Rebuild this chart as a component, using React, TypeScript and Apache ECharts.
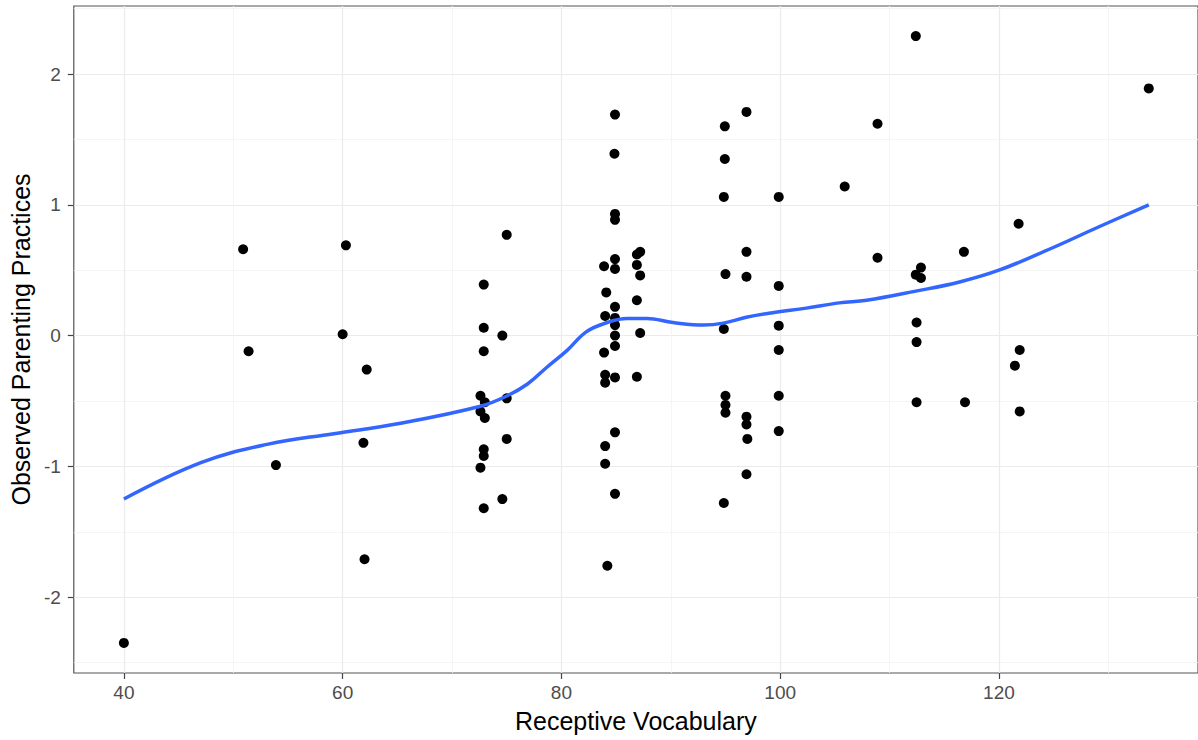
import React, { useEffect, useRef } from "react";
import * as echarts from "echarts";

// Scatter data: Receptive Vocabulary (x) vs Observed Parenting Practices (y)
const vocab = [
  40.0, 50.9, 51.4, 53.9, 60.0, 60.3, 62.2, 61.9, 62.0,
  75.0, 72.9, 72.9, 74.6, 72.9, 72.6, 75.0, 73.0, 72.6, 73.0, 75.0, 72.9, 72.9, 72.6, 74.6, 72.9,
  84.9, 84.85, 84.9, 84.9, 83.9, 84.9, 84.9, 87.2, 86.9, 86.9, 87.2, 84.1, 86.9, 84.9, 84.0, 84.9,
  84.9, 87.2, 84.9, 84.9, 83.9, 84.0, 84.0, 84.9, 86.9, 84.9, 84.0, 84.0, 84.9, 84.2,
  94.94, 96.92, 94.94, 94.85, 99.87, 96.92, 95.0, 96.92, 99.87, 94.85, 99.87, 99.87, 95.0, 95.0,
  95.0, 96.92, 96.92, 97.0, 99.87, 99.87, 96.92, 94.85,
  105.9, 108.9, 108.9, 112.4, 133.7, 116.8, 112.87, 112.4, 112.87, 112.47, 112.47, 121.9, 121.46,
  112.47, 116.9, 121.9, 121.8,
];
const parenting = [
  -2.35, 0.66, -0.12, -0.99, 0.01, 0.69, -0.26, -0.82, -1.71,
  0.77, 0.39, 0.06, 0.0, -0.12, -0.46, -0.48, -0.51, -0.58, -0.63, -0.79, -0.87, -0.92, -1.01, -1.25, -1.32,
  1.69, 1.39, 0.93, 0.885, 0.53, 0.585, 0.51, 0.64, 0.62, 0.54, 0.46, 0.33, 0.27, 0.22, 0.15, 0.135,
  0.08, 0.02, 0.0, -0.08, -0.13, -0.3, -0.36, -0.32, -0.315, -0.74, -0.845, -0.98, -1.21, -1.76,
  1.6, 1.71, 1.35, 1.06, 1.06, 0.64, 0.47, 0.45, 0.38, 0.05, 0.076, -0.11, -0.46, -0.53,
  -0.59, -0.62, -0.68, -0.79, -0.46, -0.73, -1.06, -1.28,
  1.14, 1.62, 0.595, 2.29, 1.89, 0.64, 0.52, 0.466, 0.44, 0.1, -0.05, -0.11, -0.23,
  -0.51, -0.51, -0.58, 0.855,
];

// Loess smooth curve
const smoothX = [
  40.0, 47.1, 53.2, 59.2, 65.3, 72.6, 75.05, 76.9, 78.7, 80.5, 82.3, 84.2, 86.0, 87.8,
  90.2, 93.0, 94.8, 96.9, 99.3, 102.4, 105.4, 107.9, 112.4, 116.4, 120.0, 124.6, 129.1, 133.7,
];
const smoothY = [
  -1.25, -0.97, -0.83, -0.75, -0.67, -0.54, -0.46, -0.37, -0.24, -0.115, 0.03, 0.1, 0.13, 0.13,
  0.1, 0.08, 0.095, 0.14, 0.175, 0.21, 0.25, 0.27, 0.34, 0.41, 0.5, 0.66, 0.83, 1.0,
];

const xTicks = [40, 60, 80, 100, 120];
const yTicks = [-2, -1, 0, 1, 2];

export default function App() {
  const ref = useRef<HTMLDivElement>(null);
  useEffect(() => {
    if (!ref.current) return;
    const chart = echarts.init(ref.current, null, { renderer: "svg" });
    const font = "Liberation Sans";
    const gridMajor = { show: true, lineStyle: { color: "#ebebeb", width: 1.2 } };
    const gridMinor = { show: true, lineStyle: { color: "#f2f2f2", width: 0.8 } };
    chart.setOption({
      animation: false,
      backgroundColor: "#ffffff",
      textStyle: { fontFamily: font },
      grid: {
        left: 71.5,
        top: 6,
        right: 0,
        bottom: 67,
        show: true,
        borderColor: "#555555",
        borderWidth: 1.2,
        containLabel: false,
      },
      xAxis: {
        type: "value",
        min: 35.42,
        max: 138.2,
        minInterval: 20,
        maxInterval: 20,
        axisLine: { show: false, onZero: false },
        axisTick: {
          show: true,
          length: 6,
          customValues: xTicks,
          lineStyle: { color: "#444444", width: 1.2 },
        },
        axisLabel: {
          customValues: xTicks,
          color: "#4d4d4d",
          fontSize: 19,
          fontFamily: font,
          margin: 10,
        },
        splitLine: gridMajor,
        minorTick: { show: false, splitNumber: 2 },
        minorSplitLine: gridMinor,
        name: "Receptive Vocabulary",
        nameLocation: "middle",
        nameGap: 35,
        nameTextStyle: { fontSize: 25, color: "#000000", fontFamily: font },
      },
      yAxis: {
        type: "value",
        min: -2.58,
        max: 2.52,
        minInterval: 1,
        maxInterval: 1,
        axisLine: { show: false, onZero: false },
        axisTick: {
          show: true,
          length: 6,
          customValues: yTicks,
          lineStyle: { color: "#444444", width: 1.2 },
        },
        axisLabel: {
          customValues: yTicks,
          color: "#4d4d4d",
          fontSize: 19,
          fontFamily: font,
          margin: 13,
        },
        splitLine: gridMajor,
        minorTick: { show: false, splitNumber: 2 },
        minorSplitLine: gridMinor,
        name: "Observed Parenting Practices",
        nameLocation: "middle",
        nameGap: 31,
        nameTextStyle: { fontSize: 25, color: "#000000", fontFamily: font },
      },
      series: [
        {
          type: "scatter",
          data: vocab.map((v, i) => [v, parenting[i]]),
          symbol: "circle",
          symbolSize: 10,
          itemStyle: { color: "#000000", opacity: 1 },
          z: 2,
        },
        {
          type: "line",
          data: smoothX.map((v, i) => [v, smoothY[i]]),
          showSymbol: false,
          smooth: 0.4,
          lineStyle: { color: "#3366FF", width: 3.5 },
          z: 3,
        },
      ],
    });
    return () => chart.dispose();
  }, []);
  return (
    <div
      ref={ref}
      style={{ position: "fixed", left: 0, top: 0, width: 1198, height: 740, background: "#fff" }}
    />
  );
}
